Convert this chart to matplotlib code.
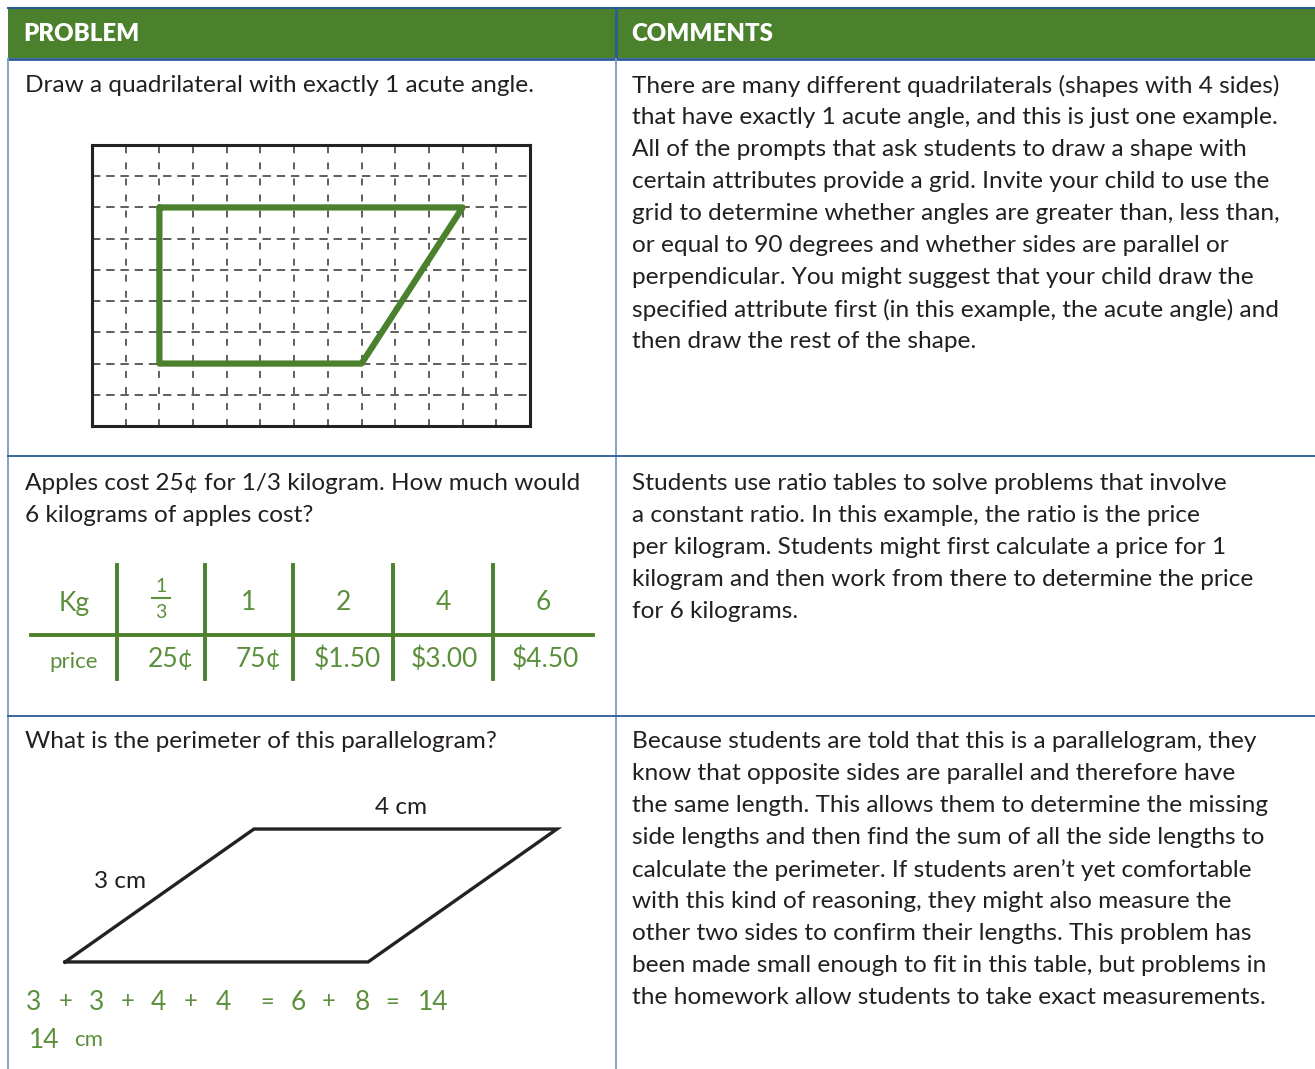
import matplotlib.pyplot as plt
from matplotlib.patches import Rectangle

# ── data ─────────────────────────────────────────────────────────────────────
headers = ["PROBLEM", "COMMENTS"]

problems = [
    ["Draw a quadrilateral with exactly 1 acute angle."],
    ["Apples cost 25¢ for 1/3 kilogram. How much would",
     "6 kilograms of apples cost?"],
    ["What is the perimeter of this parallelogram?"],
]

comments = [
    ["There are many different quadrilaterals (shapes with 4 sides)",
     "that have exactly 1 acute angle, and this is just one example.",
     "All of the prompts that ask students to draw a shape with",
     "certain attributes provide a grid. Invite your child to use the",
     "grid to determine whether angles are greater than, less than,",
     "or equal to 90 degrees and whether sides are parallel or",
     "perpendicular. You might suggest that your child draw the",
     "specified attribute first (in this example, the acute angle) and",
     "then draw the rest of the shape."],
    ["Students use ratio tables to solve problems that involve",
     "a constant ratio. In this example, the ratio is the price",
     "per kilogram. Students might first calculate a price for 1",
     "kilogram and then work from there to determine the price",
     "for 6 kilograms."],
    ["Because students are told that this is a parallelogram, they",
     "know that opposite sides are parallel and therefore have",
     "the same length. This allows them to determine the missing",
     "side lengths and then find the sum of all the side lengths to",
     "calculate the perimeter. If students aren\u2019t yet comfortable",
     "with this kind of reasoning, they might also measure the",
     "other two sides to confirm their lengths. This problem has",
     "been made small enough to fit in this table, but problems in",
     "the homework allow students to take exact measurements."],
]

# grid drawing (grid units, 13 x 9 cells)
grid_cols, grid_rows = 13, 9
quad_x = [2, 11, 8, 2, 2]
quad_y = [7, 7, 2, 2, 7]

# ratio table
row_names = ["Kg", "price"]
kg_values = ["1/3", "1", "2", "4", "6"]
price_values = ["25¢", "75¢", "$1.50", "$3.00", "$4.50"]

# parallelogram
para_x = [0, 3, 4.87, 1.87, 0]
para_y = [0, 0, 1.32, 1.32, 0]
side_labels = ["4 cm", "3 cm"]

# handwritten working
work_tokens = ["3", "+", "3", "+", "4", "+", "4", "=", "6", "+", "8", "=", "14"]
work_token_x = [34, 66, 97, 128, 158, 191, 223, 267, 298, 329, 362, 392, 433]
answer_tokens = ["14", "cm"]
answer_token_x = [44, 89]

# ── style ────────────────────────────────────────────────────────────────────
GREEN = "#4b812d"
HAND = "#5b8f3c"
DARK_BLUE = "#2b5b97"
LIGHT_BLUE = "#7d9cc5"
TEXT = "#231f20"
FONT = "Lato"
FS = 17.6

W, H = 1315, 1069
fig = plt.figure(figsize=(W / 100, H / 100), dpi=100)
ax = fig.add_axes([0, 0, 1, 1])
ax.set_xlim(0, W)
ax.set_ylim(H, 0)
ax.axis("off")

# header band
ax.add_patch(Rectangle((8, 8), W, 50, facecolor=GREEN, edgecolor="none"))
ax.plot([8, W], [8, 8], color=DARK_BLUE, lw=1.5)
ax.plot([8, W], [58.5, 58.5], color=DARK_BLUE, lw=2)
ax.plot([616, 616], [8, 58], color=DARK_BLUE, lw=2)
ax.text(23, 34, headers[0], color="white", fontsize=17.3, fontweight="heavy",
        family=FONT, va="center")
ax.text(631, 34, headers[1], color="white", fontsize=17.3, fontweight="heavy",
        family=FONT, va="center")

# body lines
ax.plot([616, 616], [59, H], color=LIGHT_BLUE, lw=1.3)
ax.plot([8.5, 8.5], [59, H], color=LIGHT_BLUE, lw=1.3)
for y in [456, 716]:
    ax.plot([8, W], [y, y], color=DARK_BLUE, lw=1.3)

# text in cells
row_tops = [86, 483, 742]
for top, plines, clines in zip(row_tops, problems, comments):
    for i, line in enumerate(plines):
        ax.text(25, top + 32 * i, line, fontsize=FS, family=FONT, color=TEXT,
                va="center")
    for i, line in enumerate(clines):
        ax.text(632, top + 32 * i, line, fontsize=FS, family=FONT, color=TEXT,
                va="center")

# ── grid drawing ─────────────────────────────────────────────────────────────
gax = fig.add_axes([92 / W, 1 - 426 / H, (530 - 92) / W, (426 - 145) / H])
gax.set_xlim(0, grid_cols)
gax.set_ylim(0, grid_rows)
gax.set_xticks([])
gax.set_yticks([])
for s in gax.spines.values():
    s.set_linewidth(2.2)
    s.set_color("#222222")
for c in range(1, grid_cols):
    gax.plot([c, c], [0, grid_rows], color="#333333", lw=1.1,
             dashes=(4.5, 6), dash_capstyle="butt")
for r in range(1, grid_rows):
    gax.plot([0, grid_cols], [r, r], color="#333333", lw=1.1,
             dashes=(5.5, 3.8), dash_capstyle="butt")
gax.plot(quad_x, quad_y, color=GREEN, lw=4.5, solid_joinstyle="round",
         solid_capstyle="round")

# ── ratio table ──────────────────────────────────────────────────────────────
kg_x = [161, 249, 343, 443, 543]
price_x = [171, 259, 347, 444, 545]
col_sep = [117, 205, 293, 393, 493]
ax.plot([31, 593], [635, 635], color=GREEN, lw=2.8)
for x in col_sep:
    ax.plot([x, x], [565, 679], color=GREEN, lw=2.8)
hand = dict(family=FONT, color=HAND, ha="center", va="center")
ax.text(74, 603, row_names[0], fontsize=19, **hand)
ax.text(74, 662, row_names[1], fontsize=16, **hand)
for x, k in zip(kg_x, kg_values):
    if "/" in k:
        num, den = k.split("/")
        ax.text(x, 586, num, fontsize=14, **hand)
        ax.plot([x - 9, x + 9], [598, 598], color=HAND, lw=1.5)
        ax.text(x, 612, den, fontsize=14, **hand)
    else:
        ax.text(x, 602, k, fontsize=19, **hand)
for x, p in zip(price_x, price_values):
    ax.text(x, 659, p, fontsize=19, **hand)

# ── parallelogram ────────────────────────────────────────────────────────────
pax = fig.add_axes([60 / W, 1 - 967 / H, (562 - 60) / W, (967 - 824) / H])
pax.set_xlim(-0.05, 4.92)
pax.set_ylim(-0.05, 1.37)
pax.axis("off")
pax.plot(para_x, para_y, color="#222222", lw=2.4, solid_joinstyle="miter")
ax.text(401, 808, side_labels[0], fontsize=FS, family=FONT, color=TEXT,
        ha="center", va="center")
ax.text(120, 881, side_labels[1], fontsize=FS, family=FONT, color=TEXT,
        ha="center", va="center")

for x, t in zip(work_token_x, work_tokens):
    ax.text(x, 1002, t, fontsize=19 if t not in "+=" else 17, **hand)
for x, t in zip(answer_token_x, answer_tokens):
    ax.text(x, 1040, t, fontsize=19 if t != "cm" else 16, **hand)

fig.savefig("out.png", dpi=100)
